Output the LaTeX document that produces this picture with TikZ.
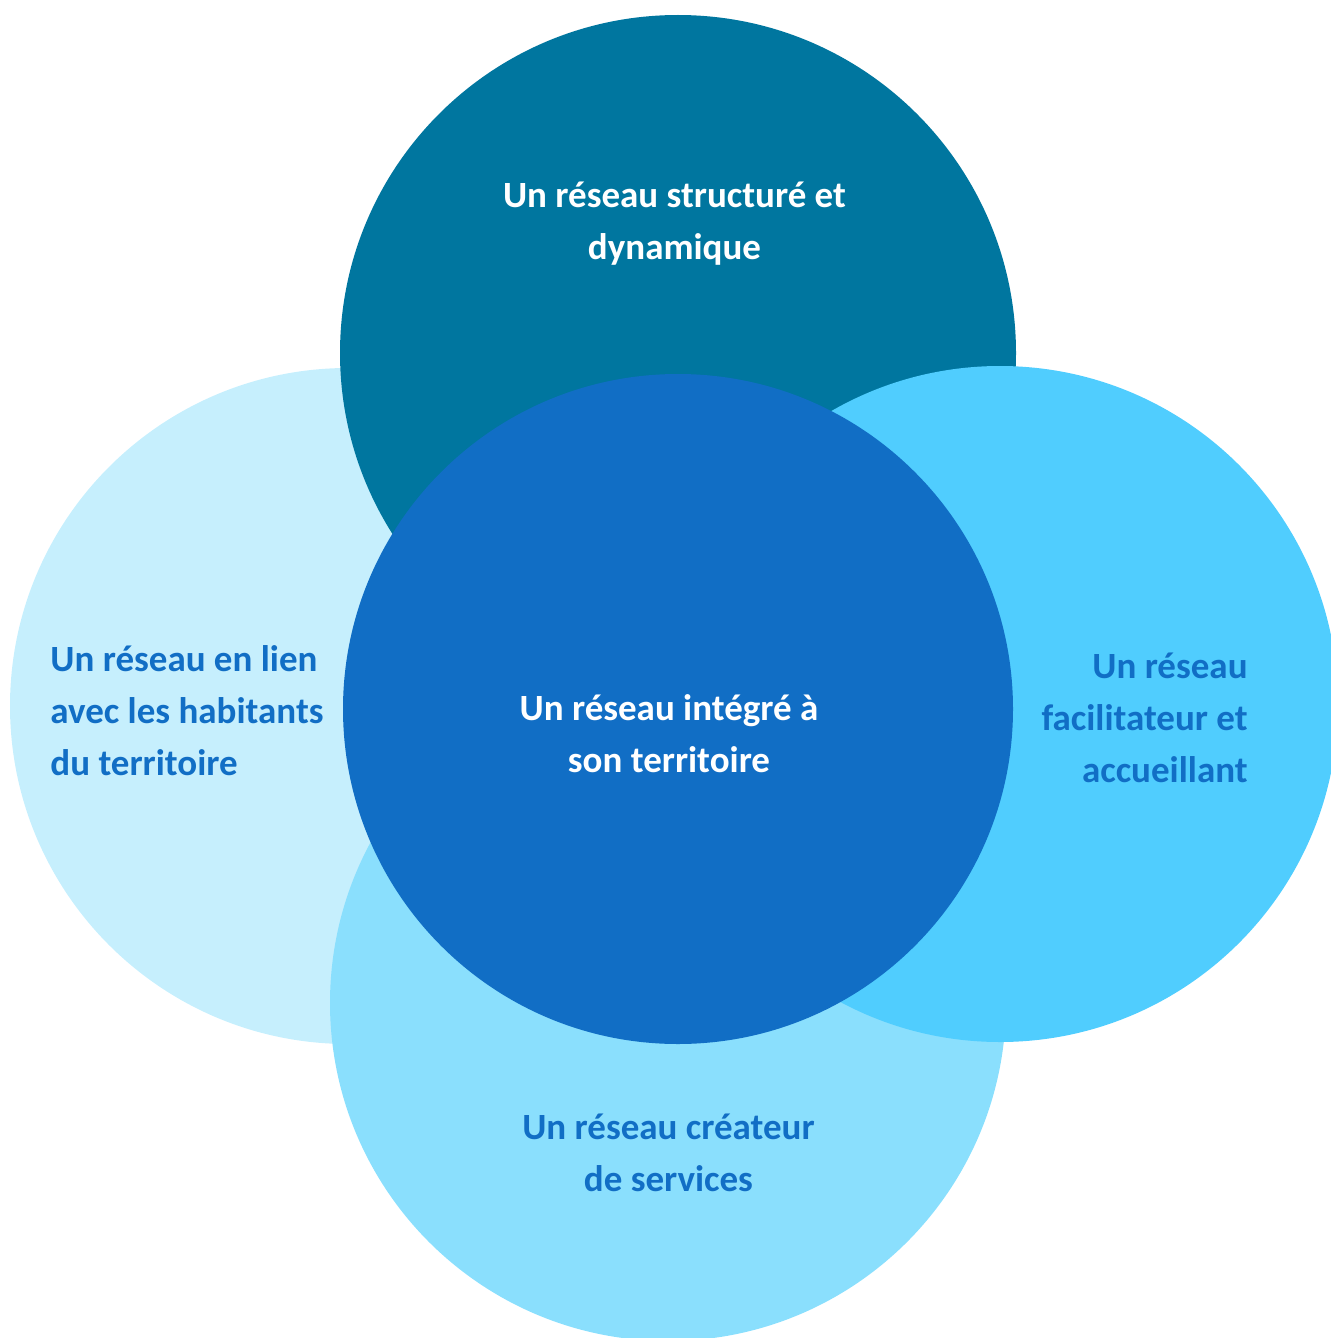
\documentclass[tikz,border=0pt]{standalone}
\usepackage{fontspec}
\setmainfont{Carlito}
\usetikzlibrary{positioning,calc}
\definecolor{topblue}{HTML}{00769F}
\definecolor{leftblue}{HTML}{C6EFFD}
\definecolor{rightblue}{HTML}{50CDFE}
\definecolor{bottomblue}{HTML}{8ADFFD}
\definecolor{midblue}{HTML}{116EC5}
\begin{document}
\begin{tikzpicture}[
    x=0.5pt,y=-0.5pt,
    disc/.style={circle,inner sep=0pt,minimum size=338pt},
    lbl/.style={font=\fontsize{18.5}{26}\selectfont\bfseries,inner sep=0pt,text=midblue}]
    \useasboundingbox (0,0) rectangle (1331,1338);
    % outer circles, back to front
    \node[disc,fill=leftblue] (left) at (348,706) {};
    \node[disc,fill=topblue] (top) at (678,353) {};
    \node[disc,fill=bottomblue] (bottom) at (668,1003) {};
    \node[disc,fill=rightblue] (right) at (1000,704) {};
    % centre circle last
    \node[disc,fill=midblue,minimum size=335pt] (mid) at (678,709) {};
    % labels (base = last line)
    \node[lbl,align=center,text=white,anchor=base] (toplbl) at ($(top)+(-3.5,-94)$) {Un réseau structuré et\\dynamique};
    \node[lbl,align=left,anchor=base west] (leftlbl) at ($(left)+(-298,69)$) {Un réseau en lien\\avec les habitants\\du territoire};
    \node[lbl,align=right,anchor=base east] (rightlbl) at ($(right)+(248,78)$) {Un réseau\\facilitateur et\\accueillant};
    \node[lbl,align=center,anchor=base] (bottomlbl) at ($(bottom)+(0.5,188)$) {Un réseau créateur\\de services};
    \node[lbl,align=center,text=white,anchor=base] (midlbl) at ($(mid)+(-9,63)$) {Un réseau intégré à\\son territoire};
\end{tikzpicture}
\end{document}
